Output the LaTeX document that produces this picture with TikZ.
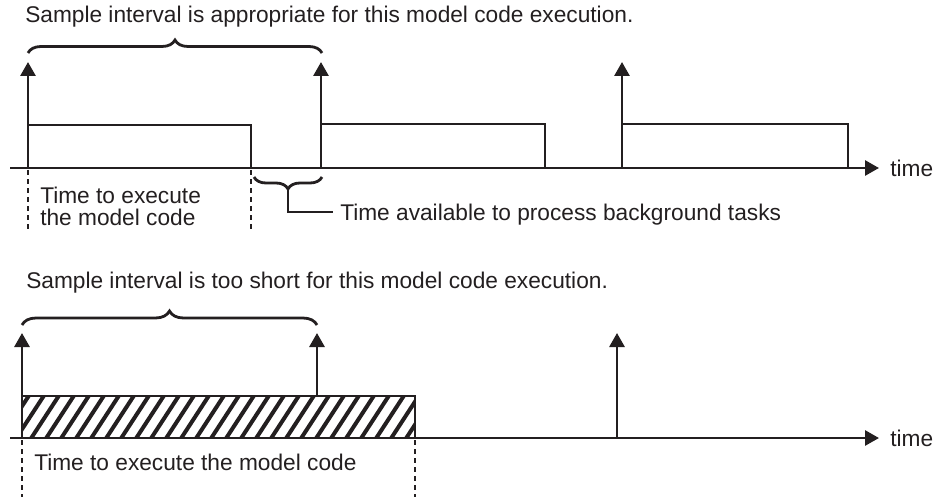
\documentclass[tikz,border=0pt]{standalone}
\usepackage{fontspec}
\setmainfont{Liberation Sans}
\usepackage{tikz}
\usetikzlibrary{arrows.meta, positioning, decorations.pathreplacing}
\definecolor{ink}{HTML}{231F20}

\begin{document}
\begin{tikzpicture}[x=1pt, y=-1pt, draw=ink, text=ink, line width=2.5pt,
  lbl/.style={anchor=base west, inner sep=0pt, font=\fontsize{22.7}{22.7}\selectfont},
  sample/.style={-{Triangle[length=14pt, width=15pt]}, line width=2.8pt},
  axis/.style={-{Triangle[length=14pt, width=15pt]}, line width=2.8pt},
  guide/.style={line width=1.2pt, dash pattern=on 5pt off 4pt},
  bigbrace/.style={decorate, decoration={brace, amplitude=13pt}, line width=2.8pt}]
\useasboundingbox (0,0) rectangle (941,497);

% appropriate interval
\node (title1) [lbl] at (24,23) {Sample interval is appropriate for this model code execution.};
\coordinate (a1start) at (10,168);
\coordinate (a1end) at (879,168);
\coordinate (s1) at (28,168);
\coordinate (s2) at (321,168);
\coordinate (s3) at (622,168);
\draw[axis] (a1start) -- (a1end);
\node (time1) [right=10pt of a1end, inner sep=0pt, font=\fontsize{22.7}{22.7}\selectfont] {time};
\draw[sample] (s1) -- ++(0,-106);
\draw[sample] (s2) -- ++(0,-106);
\draw[sample] (s3) -- ++(0,-106);
\draw (28,125) -- (251,125) -- (251,168);
\draw (321,124) -- (545,124) -- (545,168);
\draw (622,124) -- (848,124) -- (848,168);
\draw[bigbrace] (28,53) -- (322,53);
\draw[guide] (28,170) -- (28,231);
\draw[guide] (251,170) -- (251,231);
\node (exec1) [lbl] at (39,203) {Time to execute};
\node (exec2) [lbl] at (39,225) {the model code};
\draw[bigbrace, decoration={amplitude=12pt, mirror}] (254,177) -- coordinate[yshift=-12pt] (gap) (322,177);
\node (avail) [lbl] at (339,220) {Time available to process background tasks};
\draw (gap) |- ([xshift=-6pt, yshift=8pt]avail.base west);

% too short interval
\node (title2) [lbl] at (25,288) {Sample interval is too short for this model code execution.};
\coordinate (b1start) at (10,438);
\coordinate (b1end) at (879,438);
\coordinate (u1) at (22,438);
\coordinate (u2) at (317,438);
\coordinate (u3) at (617,438);
\begin{scope}
  \clip (22,396) rectangle (415,438);
  \foreach \x in {-30,-15,...,420}
    \draw[line width=4pt] (\x,440) -- ++(30,-46);
\end{scope}
\draw (22,396) rectangle (415,438);
\draw[axis] (b1start) -- (b1end);
\node (time2) [right=10pt of b1end, inner sep=0pt, font=\fontsize{22.7}{22.7}\selectfont] {time};
\draw[sample] (u1) -- ++(0,-105);
\draw[sample] (317,396) -- (317,333);
\draw[sample] (u3) -- ++(0,-105);
\draw[bigbrace, decoration={amplitude=14pt}] (22,325) -- (317,325);
\draw[guide] (22,440) -- (22,497);
\draw[guide] (415,440) -- (415,497);
\node (exec3) [lbl] at (33,470) {Time to execute the model code};
\end{tikzpicture}
\end{document}
